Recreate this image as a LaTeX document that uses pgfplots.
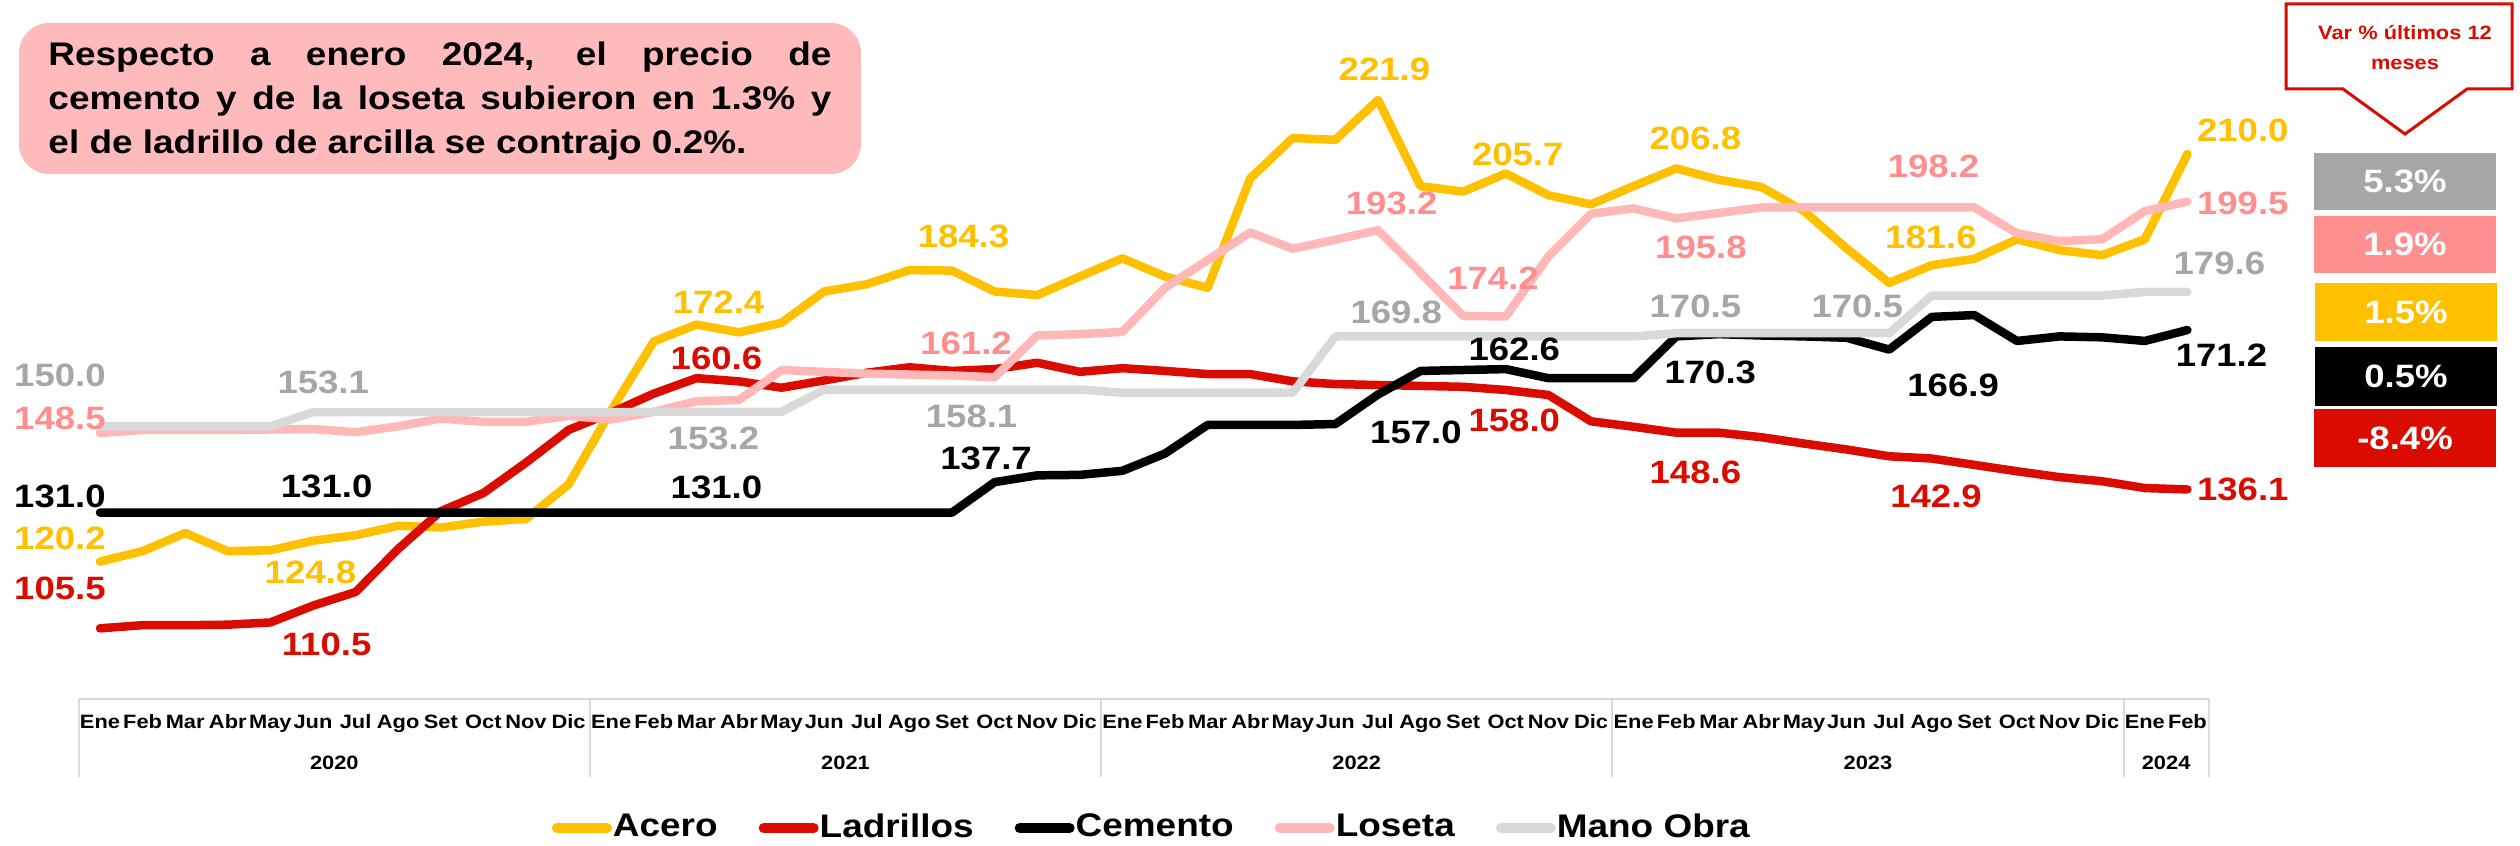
\documentclass[border=0pt]{standalone}
\usepackage{pgfplots}
\usepackage{pgfplotstable}
\pgfplotsset{compat=1.18}
\usepackage{fontspec}
\setmainfont{Liberation Sans}[FakeStretch=1.13]
\definecolor{acero}{HTML}{FFC000}
\definecolor{ladr}{HTML}{DA0C00}
\definecolor{losline}{HTML}{FFB8B8}
\definecolor{loslab}{HTML}{FF8F8F}
\definecolor{moline}{HTML}{D9D9D9}
\definecolor{molab}{HTML}{A6A6A6}
\definecolor{boxpink}{HTML}{FFBBBB}
\newcommand\lab{\fontsize{9.2}{11}\selectfont\bfseries}
\newcommand\cat{\fontsize{5.5}{7}\selectfont\bfseries}
\newcommand\boxf{\fontsize{9.2}{11}\selectfont\bfseries}

\pgfplotstableread{
i acero ladr cem los mo
0 120.2 105.5 131.0 148.5 150.0
1 122.5 106.2 131.0 149.2 150.0
2 126.5 106.2 131.0 149.2 150.0
3 122.5 106.3 131.0 149.2 150.0
4 122.7 106.8 131.0 149.3 150.0
5 124.8 110.5 131.0 149.4 153.1
6 126.0 113.5 131.0 148.7 153.1
7 128.1 123.0 131.0 150.0 153.1
8 127.7 131.3 131.0 151.7 153.1
9 129.0 135.3 131.0 151.0 153.1
10 129.6 142.0 131.0 151.0 153.1
11 137.2 149.2 131.0 152.3 153.1
12 153.5 153.0 131.0 151.5 153.1
13 168.7 157.2 131.0 153.2 153.2
14 172.4 160.6 131.0 155.5 153.2
15 170.7 159.9 131.0 155.8 153.2
16 172.8 158.5 131.0 162.4 153.2
17 179.7 160.1 131.0 162.0 158.1
18 181.3 161.8 131.0 161.6 158.1
19 184.4 163.0 131.0 161.4 158.1
20 184.3 162.2 131.0 161.2 158.1
21 179.7 162.6 137.7 160.8 158.1
22 178.9 164.0 139.2 170.0 158.1
23 183.0 162.0 139.3 170.3 158.1
24 187.0 162.8 140.2 170.8 157.4
25 183.0 162.2 144.0 180.5 157.4
26 180.5 161.5 150.3 186.6 157.4
27 204.6 161.5 150.3 192.7 157.4
28 213.5 159.9 150.3 189.1 157.4
29 213.1 159.3 150.5 191.1 169.8
30 221.9 159.1 157.0 193.2 169.8
31 202.9 158.9 162.2 183.8 169.8
32 201.7 158.7 162.4 174.3 169.8
33 205.7 158.0 162.6 174.2 169.8
34 200.9 156.9 160.6 187.4 169.8
35 198.9 151.1 160.6 196.8 169.8
36 202.9 149.9 160.6 198.0 169.8
37 206.8 148.6 169.8 195.8 170.5
38 204.3 148.6 170.3 197.0 170.5
39 202.7 147.6 170.0 198.2 170.5
40 197.4 146.2 169.8 198.2 170.5
41 189.2 144.9 169.5 198.2 170.5
42 181.6 143.4 166.9 198.2 170.5
43 185.5 142.9 174.1 198.2 178.8
44 186.9 141.5 174.5 198.2 178.8
45 191.2 140.1 168.8 192.5 178.8
46 188.8 138.8 169.8 190.8 178.8
47 187.7 137.9 169.6 191.2 178.8
48 191.2 136.4 168.8 197.4 179.6
49 210.0 136.1 171.2 199.5 179.6
}\datatable

\begin{document}
\begin{tikzpicture}
\useasboundingbox (0,0) rectangle (252mm,84.5mm);
% text box
\fill[boxpink, rounded corners=3mm] (1.9mm,82.2mm) rectangle (86.1mm,67.1mm);
\node[align=left, inner sep=0pt, font=\fontsize{9.3}{12.4}\selectfont\bfseries] at (44mm,74.4mm)
 {\makebox[78.3mm][s]{Respecto a enero 2024, el precio de}\\
  \makebox[78.3mm][s]{cemento y de la loseta subieron en 1.3\% y}\\
  \makebox[78.3mm][l]{el de ladrillo de arcilla se contrajo 0.2\%.}};
% callout
\draw[ladr, line width=0.3mm, fill=white] (228.6mm,84.1mm) -- (251.2mm,84.1mm) -- (251.2mm,75.6mm) -- (246.7mm,75.6mm) -- (240.5mm,71.1mm) -- (234.3mm,75.6mm) -- (228.6mm,75.6mm) -- cycle;
\node[text=ladr, font=\fontsize{5.5}{8.8}\selectfont\bfseries, align=center] at (240.5mm,79.75mm) {Var \% últimos 12\\meses};
% variation boxes
\fill[molab] (231.4mm,69.2mm) rectangle (249.6mm,63.5mm);
\node[text=white, font=\boxf] at (240.5mm,66.35mm) {5.3\%};
\fill[loslab] (231.4mm,62.9mm) rectangle (249.6mm,57.2mm);
\node[text=white, font=\boxf] at (240.5mm,60.05mm) {1.9\%};
\fill[acero] (231.5mm,56.2mm) rectangle (249.7mm,50.4mm);
\node[text=white, font=\boxf] at (240.6mm,53.3mm) {1.5\%};
\fill[black] (231.5mm,49.8mm) rectangle (249.7mm,43.9mm);
\node[text=white, font=\boxf] at (240.6mm,46.85mm) {0.5\%};
\fill[ladr] (231.4mm,43.6mm) rectangle (249.6mm,37.8mm);
\node[text=white, font=\boxf] at (240.5mm,40.7mm) {-8.4\%};

\begin{axis}[
  at={(7.87mm,14.63mm)}, anchor=south west,
  width=213mm, height=68.1mm, scale only axis,
  xmin=-0.5, xmax=49.5, ymin=90, ymax=240,
  hide y axis,
  axis x line*=bottom,
  x axis line style={draw=moline, line width=0.2mm, -},
  xtick={0,...,49},
  xticklabels={Ene,Feb,Mar,Abr,May,Jun,Jul,Ago,Set,Oct,Nov,Dic,Ene,Feb,Mar,Abr,May,Jun,Jul,Ago,Set,Oct,Nov,Dic,Ene,Feb,Mar,Abr,May,Jun,Jul,Ago,Set,Oct,Nov,Dic,Ene,Feb,Mar,Abr,May,Jun,Jul,Ago,Set,Oct,Nov,Dic,Ene,Feb},
  major tick length=0pt,
  xticklabel style={font=\cat, anchor=base, yshift=-3.0mm},
  clip=false,
  every axis plot/.append style={line width=0.85mm, line join=round, line cap=round, mark=none},
  legend style={at={(0.505,-0.19)}, anchor=center, draw=none, fill=none,
    legend columns=5, font=\fontsize{9.3}{12}\selectfont\bfseries,
    /tikz/every even column/.append style={column sep=3.4mm},
    /tikz/every odd column/.append style={column sep=-0.6mm}},
  legend image code/.code={\draw[#1, line width=1mm, line cap=round] (0mm,0mm) -- (5mm,0mm);},
]
\addplot[acero] table[x=i, y=acero] {\datatable};
\addplot[ladr] table[x=i, y=ladr] {\datatable};
\addplot[black] table[x=i, y=cem] {\datatable};
\addplot[losline] table[x=i, y=los] {\datatable};
\addplot[moline] table[x=i, y=mo] {\datatable};
\legend{Acero, Ladrillos, Cemento, Loseta, Mano Obra}

% year labels
\node[font=\cat, anchor=base, yshift=-7.1mm] at (axis cs:5.5,90) {2020};
\node[font=\cat, anchor=base, yshift=-7.1mm] at (axis cs:17.5,90) {2021};
\node[font=\cat, anchor=base, yshift=-7.1mm] at (axis cs:29.5,90) {2022};
\node[font=\cat, anchor=base, yshift=-7.1mm] at (axis cs:41.5,90) {2023};
\node[font=\cat, anchor=base, yshift=-7.1mm] at (axis cs:48.5,90) {2024};
% separators
\draw[moline, line width=0.2mm] (axis cs:-0.5,90) -- ([yshift=-7.8mm]axis cs:-0.5,90);
\draw[moline, line width=0.2mm] (axis cs:11.5,90) -- ([yshift=-7.8mm]axis cs:11.5,90);
\draw[moline, line width=0.2mm] (axis cs:23.5,90) -- ([yshift=-7.8mm]axis cs:23.5,90);
\draw[moline, line width=0.2mm] (axis cs:35.5,90) -- ([yshift=-7.8mm]axis cs:35.5,90);
\draw[moline, line width=0.2mm] (axis cs:47.5,90) -- ([yshift=-7.8mm]axis cs:47.5,90);
\draw[moline, line width=0.2mm] (axis cs:49.5,90) -- ([yshift=-7.8mm]axis cs:49.5,90);

% data labels: Mano Obra
\node[text=molab, font=\lab] at (axis cs:-0.94,161.3) {150.0};
\node[text=molab, font=\lab] at (axis cs:5.24,159.6) {153.1};
\node[text=molab, font=\lab] at (axis cs:14.4,147.4) {153.2};
\node[text=molab, font=\lab] at (axis cs:20.46,152.2) {158.1};
\node[text=molab, font=\lab] at (axis cs:30.43,175.2) {169.8};
\node[text=molab, font=\lab] at (axis cs:37.45,176.5) {170.5};
\node[text=molab, font=\lab] at (axis cs:41.25,176.5) {170.5};
\node[text=molab, font=\lab] at (axis cs:49.75,185.9) {179.6};
% Loseta
\node[text=loslab, font=\lab] at (axis cs:-0.94,151.8) {148.5};
\node[text=loslab, font=\lab] at (axis cs:20.33,168.3) {161.2};
\node[text=loslab, font=\lab] at (axis cs:30.32,199.0) {193.2};
\node[text=loslab, font=\lab] at (axis cs:32.7,182.6) {174.2};
\node[text=loslab, font=\lab] at (axis cs:37.58,189.4) {195.8};
\node[text=loslab, font=\lab] at (axis cs:43.04,207.2) {198.2};
\node[text=loslab, font=\lab] at (axis cs:50.3,199.1) {199.5};
% Cemento
\node[text=black, font=\lab] at (axis cs:-0.94,134.5) {131.0};
\node[text=black, font=\lab] at (axis cs:5.32,136.7) {131.0};
\node[text=black, font=\lab] at (axis cs:14.47,136.6) {131.0};
\node[text=black, font=\lab] at (axis cs:20.8,143.0) {137.7};
\node[text=black, font=\lab] at (axis cs:30.89,148.7) {157.0};
\node[text=black, font=\lab] at (axis cs:33.2,166.9) {162.6};
\node[text=black, font=\lab] at (axis cs:37.8,161.8) {170.3};
\node[text=black, font=\lab] at (axis cs:43.5,159.0) {166.9};
\node[text=black, font=\lab] at (axis cs:49.8,165.7) {171.2};
% Acero
\node[text=acero, font=\lab] at (axis cs:-0.94,125.3) {120.2};
\node[text=acero, font=\lab] at (axis cs:4.94,117.8) {124.8};
\node[text=acero, font=\lab] at (axis cs:14.52,177.3) {172.4};
\node[text=acero, font=\lab] at (axis cs:20.27,191.9) {184.3};
\node[text=acero, font=\lab] at (axis cs:30.15,228.6) {221.9};
\node[text=acero, font=\lab] at (axis cs:33.28,209.9) {205.7};
\node[text=acero, font=\lab] at (axis cs:37.45,213.4) {206.8};
\node[text=acero, font=\lab] at (axis cs:42.98,191.7) {181.6};
\node[text=acero, font=\lab] at (axis cs:50.3,215.2) {210.0};
% Ladrillos
\node[text=ladr, font=\lab] at (axis cs:-0.94,114.3) {105.5};
\node[text=ladr, font=\lab] at (axis cs:5.32,101.9) {110.5};
\node[text=ladr, font=\lab] at (axis cs:14.47,164.9) {160.6};
\node[text=ladr, font=\lab] at (axis cs:33.2,151.4) {158.0};
\node[text=ladr, font=\lab] at (axis cs:37.45,139.8) {148.6};
\node[text=ladr, font=\lab] at (axis cs:43.1,134.5) {142.9};
\node[text=ladr, font=\lab] at (axis cs:50.3,136.0) {136.1};
\end{axis}
\end{tikzpicture}
\end{document}
